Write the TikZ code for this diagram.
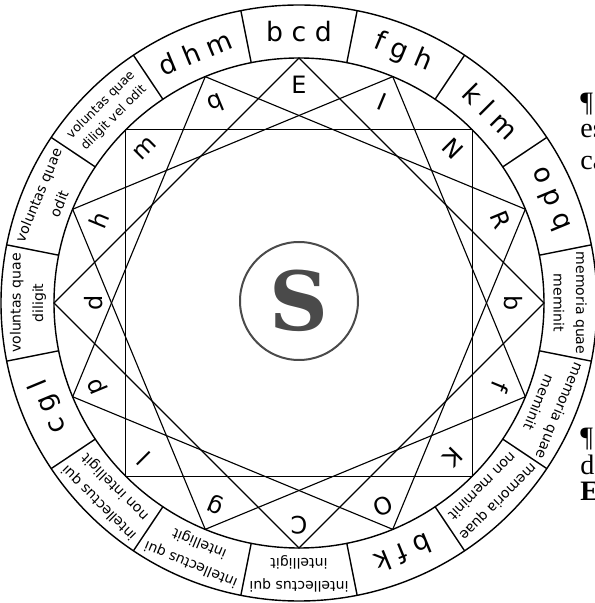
\documentclass[tikz,border=0pt]{standalone}
\usepackage{fontspec}
\setsansfont{DejaVu Sans}
\newfontfamily\bookfont{Liberation Serif}
\newfontfamily\badgefont{DejaVu Serif}
\definecolor{logogray}{HTML}{4A4A4A}

\begin{document}
\begin{tikzpicture}[x=0.25mm,y=0.25mm,
  ring/.style={line width=1pt},
  sqr/.style={line width=0.8pt,line join=miter},
  cell/.style={align=center,inner sep=0pt,font=\sffamily\fontsize{10}{16}\selectfont},
  trio/.style={inner sep=0pt,font=\sffamily\fontsize{19}{19}\selectfont},
  ltr/.style={inner sep=0pt,font=\sffamily\fontsize{17}{17}\selectfont},
  book/.style={anchor=base west,inner sep=0pt,font=\bookfont\fontsize{20}{20}\selectfont}]
\useasboundingbox (-299,-300) rectangle (296,303);
% ring
\draw[ring] (0,0) circle (298);
\draw[ring] (0,0) circle (245);
\foreach \a in {11.25,33.75,...,348.75}
  \draw[ring] (\a:245) -- (\a:298);
% compartments
\node[trio] (cE) at (90:271) {b c d};
\node[trio,rotate=-22.5] (cI) at (67.5:271) {f g h};
\node[trio,rotate=-45] (cN) at (45:271) {k l m};
\node[trio,rotate=-67.5] (cR) at (22.5:271) {o p q};
\node[cell,rotate=-90] (cB) at (0:271) {memoria quae\\meminit};
\node[cell,rotate=-112.5] (cF) at (-22.5:271) {memoria quae\\meminit};
\node[cell,rotate=-135] (cK) at (-45:271) {memoria quae\\non meminit};
\node[trio,rotate=-157.5] (cO) at (-67.5:271) {b f k};
\node[cell,rotate=-180] (cC) at (-90:271) {intellectus qui\\intelligit};
\node[cell,rotate=-202.5] (cG) at (-112.5:271) {intellectus qui\\intelligit};
\node[cell,rotate=-225] (cL) at (-135:271) {intellectus qui\\non intelligit};
\node[trio,rotate=-247.5] (cP) at (-157.5:271) {c g l};
\node[cell,rotate=90] (cD) at (180:271) {voluntas quae\\diligit};
\node[cell,rotate=67.5] (cH) at (157.5:271) {voluntas quae\\odit};
\node[cell,rotate=45,font=\sffamily\fontsize{9}{13}\selectfont] (cM) at (135:271) {voluntas quae\\diligit vel odit};
\node[trio,rotate=22.5] (cQ) at (112.5:271) {d h m};
% corners of the four squares
\coordinate (pE) at (90:245);
\coordinate (pI) at (67.5:245);
\coordinate (pN) at (45:245);
\coordinate (pR) at (22.5:245);
\coordinate (pB) at (0:245);
\coordinate (pF) at (-22.5:245);
\coordinate (pK) at (-45:245);
\coordinate (pO) at (-67.5:245);
\coordinate (pC) at (-90:245);
\coordinate (pG) at (-112.5:245);
\coordinate (pL) at (-135:245);
\coordinate (pP) at (-157.5:245);
\coordinate (pD) at (180:245);
\coordinate (pH) at (157.5:245);
\coordinate (pM) at (135:245);
\coordinate (pQ) at (112.5:245);
\draw[sqr] (pE)--(pB)--(pC)--(pD)--cycle;
\draw[sqr] (pI)--(pF)--(pG)--(pH)--cycle;
\draw[sqr] (pN)--(pK)--(pL)--(pM)--cycle;
\draw[sqr] (pR)--(pO)--(pP)--(pQ)--cycle;
% letters in the corners
\node[ltr] (lE) at (90:218) {E};
\node[ltr,rotate=-22.5] (lI) at (67.5:218) {I};
\node[ltr,rotate=-45] (lN) at (45:218) {N};
\node[ltr,rotate=-67.5] (lR) at (22.5:218) {R};
\node[ltr,rotate=-90] (lB) at (0:214) {b};
\node[ltr,rotate=-112.5] (lF) at (-22.5:218) {f};
\node[ltr,rotate=-135] (lK) at (-45:218) {K};
\node[ltr,rotate=-157.5] (lO) at (-67.5:220) {O};
\node[ltr,rotate=-180] (lC) at (-90:222) {C};
\node[ltr,rotate=-202.5] (lG) at (-112.5:218) {g};
\node[ltr,rotate=-225] (lL) at (-135:220) {l};
\node[ltr,rotate=-247.5] (lP) at (-157.5:218) {p};
\node[ltr,rotate=90] (lD) at (180:205) {d};
\node[ltr,rotate=67.5] (lH) at (157.5:216) {h};
\node[ltr,rotate=45] (lM) at (135:218) {m};
\node[ltr,rotate=22.5] (lQ) at (112.5:216) {q};
% badge
\draw[logogray,line width=0.5mm] (0,2) circle (59);
\node[text=logogray,inner sep=0pt,font=\badgefont\bfseries\fontsize{58}{58}\selectfont] (logo) at (0,2) {S};
% page text cut at the edge
\node[book] (par1) at (281,191) {¶};
\node[book] (es) at (281,165) {es};
\node[book] (ca) at (281,133) {ca};
\node[book] (par2) at (281,-143) {¶};
\node[book] (de) at (281,-171) {d};
\node[book,font=\bookfont\bfseries\fontsize{20}{20}\selectfont] (Eb) at (281,-197) {E};
\end{tikzpicture}
\end{document}
